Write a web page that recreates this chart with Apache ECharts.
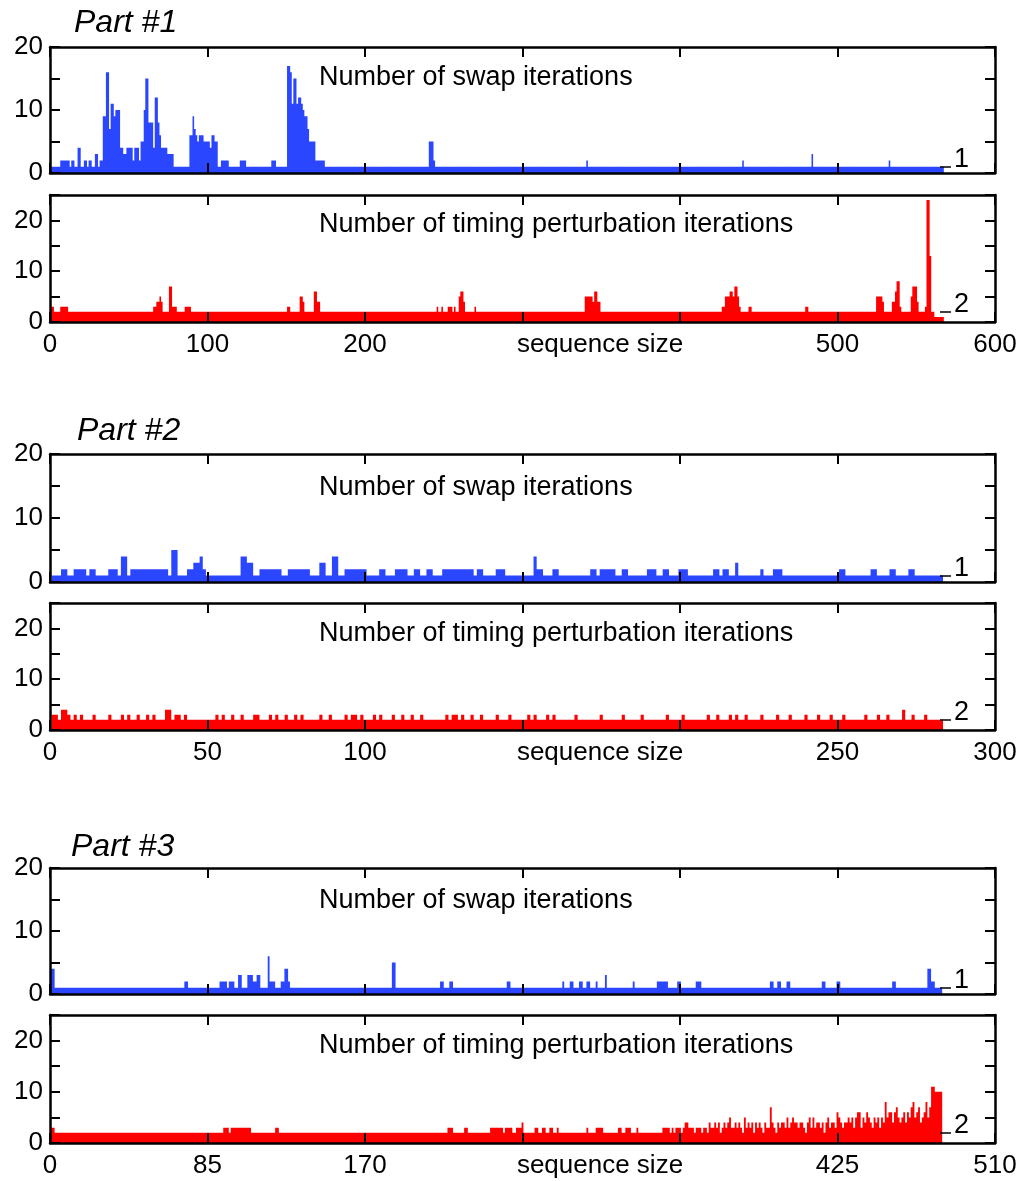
<!DOCTYPE html>
<html lang="en">

<head>
  <meta charset="UTF-8">
  <title>swap / timing iterations</title>
  <script src="https://cdn.jsdelivr.net/npm/echarts@6/dist/echarts.min.js"></script>
  <style>
    * {
      padding: 0;
      margin: 0;
    }

    #box {
      width: 1036px;
      height: 1181px;
    }
  </style>
</head>

<body>
  <div id="box"></div>
  <script>
    // ---- values ----
    // runs are [from, to, value] over sequence indexes, all other indexes sit on the baseline
    var partTitles = ['Part #1', 'Part #2', 'Part #3']
    var swapTitle = 'Number of swap iterations'
    var timingTitle = 'Number of timing perturbation iterations'
    var xTitle = 'sequence size'

    var xMax = [600, 300, 510]
    var xStep = [100, 50, 85]
    var xHidden = [[300, 400], [150, 200], [255, 340]]   // tick labels replaced by the axis title
    var seqCount = [567, 283, 481]
    var swapBase = 1
    var timingBase = 2

    var swap1Runs = [
      [7, 12, 2], [14, 15, 2], [18, 19, 4], [22, 23, 2], [25, 26, 2], [29, 30, 3], [32, 33, 2],
      [34, 35, 9], [36, 37, 16], [38, 38, 7], [39, 40, 11], [41, 41, 9], [42, 44, 10], [45, 46, 4],
      [47, 48, 3], [49, 52, 4], [53, 53, 2], [54, 56, 4], [57, 57, 2], [58, 59, 5], [60, 60, 10],
      [61, 62, 15], [63, 65, 8], [66, 66, 4], [67, 68, 12], [69, 69, 8], [70, 70, 6], [71, 74, 4],
      [75, 78, 3], [89, 90, 6], [91, 91, 9], [92, 92, 7], [93, 93, 6], [94, 94, 5], [95, 97, 6],
      [98, 101, 5], [102, 102, 4], [103, 104, 6], [105, 106, 5], [109, 113, 2], [121, 124, 2],
      [141, 143, 2], [151, 152, 17], [153, 153, 16], [154, 154, 11], [155, 156, 15], [157, 157, 11],
      [158, 159, 12], [160, 160, 11], [161, 161, 10], [162, 163, 9], [164, 164, 7], [165, 168, 5],
      [169, 174, 2], [241, 243, 5], [244, 244, 2], [341, 341, 2], [440, 440, 2], [484, 484, 3],
      [533, 533, 2]
    ]
    var timing1Runs = [
      [1, 2, 3], [7, 11, 3], [66, 67, 3], [68, 69, 4], [70, 70, 5], [71, 71, 4], [76, 77, 7],
      [78, 80, 3], [86, 89, 3], [151, 152, 3], [159, 160, 5], [161, 161, 4], [168, 169, 6],
      [170, 171, 4], [246, 246, 3], [249, 249, 3], [253, 255, 3], [257, 257, 3], [260, 260, 5],
      [261, 262, 6], [263, 263, 4], [270, 270, 3], [340, 344, 5], [345, 345, 4], [346, 347, 6],
      [348, 349, 4], [427, 428, 3], [429, 431, 5], [432, 433, 6], [434, 434, 5], [435, 436, 7],
      [437, 437, 5], [438, 438, 3], [444, 445, 3], [480, 481, 3], [525, 528, 5], [529, 529, 4],
      [535, 536, 4], [537, 537, 6], [538, 539, 8], [540, 540, 3], [547, 547, 5], [548, 550, 7],
      [551, 551, 4], [556, 556, 3], [557, 558, 24], [559, 559, 13], [562, 567, 1]
    ]
    var swap2Runs = [
      [4, 5, 2], [8, 11, 2], [13, 14, 2], [19, 21, 2], [23, 24, 4], [26, 37, 2], [39, 40, 5],
      [44, 45, 2], [46, 47, 3], [48, 48, 4], [49, 49, 2], [61, 62, 4], [63, 64, 3], [67, 73, 2],
      [76, 82, 2], [86, 87, 3], [90, 91, 4], [94, 100, 2], [105, 106, 2], [110, 113, 2],
      [116, 117, 2], [120, 121, 2], [125, 134, 2], [136, 137, 2], [142, 144, 2], [154, 154, 4],
      [155, 156, 2], [160, 161, 2], [172, 173, 2], [175, 179, 2], [182, 183, 2], [190, 192, 2],
      [195, 196, 2], [200, 202, 2], [211, 212, 2], [214, 215, 2], [218, 218, 3], [226, 226, 2],
      [230, 232, 2], [251, 252, 2], [261, 262, 2], [267, 268, 2], [273, 274, 2]
    ]
    var timing2Runs = [
      [1, 2, 3], [4, 5, 4], [6, 6, 3], [8, 8, 3], [10, 10, 3], [14, 14, 3], [19, 19, 3], [23, 23, 3],
      [25, 25, 3], [28, 28, 3], [31, 31, 3], [33, 33, 3], [37, 38, 4], [40, 41, 3], [43, 43, 3],
      [53, 53, 3], [55, 55, 3], [58, 58, 3], [61, 61, 3], [65, 66, 3], [70, 70, 3], [72, 72, 3],
      [75, 75, 3], [78, 78, 3], [80, 80, 3], [86, 86, 3], [89, 89, 3], [94, 94, 3], [96, 97, 3],
      [99, 99, 3], [103, 103, 3], [105, 105, 3], [109, 109, 3], [112, 112, 3], [115, 115, 3],
      [118, 118, 3], [126, 126, 3], [128, 129, 3], [131, 131, 3], [134, 134, 3], [137, 137, 3],
      [142, 142, 3], [146, 146, 3], [152, 152, 3], [154, 154, 3], [158, 158, 3], [160, 160, 3],
      [167, 167, 3], [175, 175, 3], [182, 182, 3], [188, 188, 3], [196, 196, 3], [201, 201, 3],
      [209, 209, 3], [212, 212, 3], [216, 216, 3], [218, 218, 3], [221, 221, 3], [226, 226, 3],
      [231, 231, 3], [235, 235, 3], [240, 240, 3], [244, 244, 3], [248, 248, 3], [252, 252, 3],
      [259, 259, 3], [263, 263, 3], [266, 266, 3], [271, 271, 4], [274, 274, 3], [278, 278, 3]
    ]
    var swap3Runs = [
      [1, 2, 4], [73, 74, 2], [92, 95, 2], [97, 99, 2], [102, 103, 3], [107, 109, 3], [110, 111, 2],
      [112, 113, 3], [118, 118, 6], [119, 121, 2], [125, 126, 2], [127, 128, 4], [129, 129, 2],
      [185, 186, 5], [211, 212, 2], [216, 217, 2], [247, 248, 2], [277, 277, 2], [281, 282, 2],
      [286, 287, 2], [290, 291, 2], [295, 295, 2], [300, 300, 3], [315, 315, 2], [328, 333, 2],
      [339, 340, 2], [349, 351, 2], [389, 390, 2], [393, 394, 2], [398, 399, 2], [417, 418, 2],
      [425, 426, 2], [455, 456, 2], [474, 475, 4], [476, 477, 2]
    ]
    var timing3Runs = [
      [1, 2, 3], [94, 96, 3], [98, 108, 3], [122, 123, 3], [215, 217, 3], [224, 225, 3],
      [238, 244, 3], [246, 249, 3], [252, 254, 3], [255, 255, 4], [262, 263, 3], [266, 267, 3],
      [270, 271, 3], [274, 274, 3], [290, 290, 3], [295, 298, 3], [307, 308, 3], [311, 313, 3],
      [317, 317, 3], [331, 334, 3]
    ]
    // part 3 timing, indexes 336..481 one by one
    var timing3TailStart = 336
    var timing3Tail = [
      3, 2, 3, 3, 3, 2, 3, 4, 4, 3,
      3, 3, 2, 3, 3, 3, 2, 3, 3, 2,
      4, 3, 3, 4, 3, 4, 2, 3, 4, 3,
      4, 5, 3, 3, 4, 3, 4, 3, 2, 5,
      3, 4, 3, 4, 2, 4, 3, 4, 3, 2,
      4, 3, 3, 7, 4, 3, 2, 4, 3, 4,
      4, 3, 5, 3, 4, 5, 4, 4, 3, 4,
      4, 3, 2, 4, 5, 3, 5, 3, 4, 4,
      3, 4, 2, 4, 5, 3, 4, 4, 3, 6,
      5, 4, 3, 4, 4, 5, 4, 5, 3, 5,
      6, 6, 3, 5, 4, 6, 5, 4, 3, 5,
      4, 5, 3, 5, 4, 8, 5, 6, 6, 4,
      6, 7, 5, 4, 5, 6, 4, 6, 5, 7,
      8, 5, 6, 7, 4, 5, 6, 8, 5, 7,
      11, 11, 10, 10, 10, 10
    ]

    function buildData(count, base, runs, tailStart, tail) {
      var vals = []
      for (var i = 1; i <= count; i++) vals.push(base)
      runs.forEach(function (r) {
        for (var k = r[0]; k <= r[1]; k++) vals[k - 1] = r[2]
      })
      if (tail) {
        tail.forEach(function (v, j) { vals[tailStart - 1 + j] = v })
      }
      return vals.map(function (v, j) { return [j + 1, v] })
    }

    var plots = [
      { part: 0, kind: 'swap', data: buildData(seqCount[0], swapBase, swap1Runs) },
      { part: 0, kind: 'timing', data: buildData(seqCount[0], timingBase, timing1Runs) },
      { part: 1, kind: 'swap', data: buildData(seqCount[1], swapBase, swap2Runs) },
      { part: 1, kind: 'timing', data: buildData(seqCount[1], timingBase, timing2Runs) },
      { part: 2, kind: 'swap', data: buildData(seqCount[2], swapBase, swap3Runs) },
      { part: 2, kind: 'timing', data: buildData(seqCount[2], timingBase, timing3Runs, timing3TailStart, timing3Tail) }
    ]

    // ---- layout ----
    var font = "'Liberation Sans', Arial, Helvetica, sans-serif"
    var gridTops = [47, 195, 454, 603, 868, 1015]
    var gridHeights = [126, 127, 128, 127, 126, 128]
    var captionTops = [64, 211, 474, 620, 887, 1032]
    var partTops = [7, 415, 831]
    var partLefts = [74, 77, 71]
    var plotLeft = 50, plotRight = 41
    var dashFrom = 0.9418, dashTo = 0.9534   // of the x range
    var blue = '#2b46ff', red = '#ff0000'

    var mChart = echarts.init(document.getElementById('box'))

    var grids = [], xAxes = [], yAxes = [], series = [], titles = []

    partTitles.forEach(function (t, p) {
      titles.push({
        text: t, left: partLefts[p], top: partTops[p], padding: 0,
        textStyle: { fontFamily: font, fontSize: 32, fontStyle: 'italic', fontWeight: 'normal', color: '#000' }
      })
    })

    var lineStyle = { color: '#000', width: 2.5 }
    var tickStyle = { show: true, inside: true, length: 10, lineStyle: { color: '#000', width: 2 } }

    plots.forEach(function (pl, g) {
      var p = pl.part
      var timing = pl.kind === 'timing'
      var base = timing ? timingBase : swapBase
      grids.push({ left: plotLeft, right: plotRight, top: gridTops[g], height: gridHeights[g] })
      titles.push({
        text: timing ? timingTitle : swapTitle, left: 319, top: captionTops[g], padding: 0,
        textStyle: { fontFamily: font, fontSize: 27, fontWeight: 'normal', color: '#000' }
      })
      var hidden = xHidden[p]
      xAxes.push({
        gridIndex: g, type: 'value', position: 'bottom', min: 0, max: xMax[p], interval: xStep[p], z: 10,
        axisLine: { show: true, onZero: false, lineStyle: lineStyle },
        axisTick: tickStyle,
        splitLine: { show: false },
        axisLabel: {
          show: timing, margin: 10, fontFamily: font, fontSize: 26, color: '#000',
          formatter: function (v) { return hidden.indexOf(v) >= 0 ? '' : String(v) }
        },
        name: timing ? xTitle : '', nameLocation: 'middle', nameGap: 10, nameMoveOverlap: false,
        nameTextStyle: { fontFamily: font, fontSize: 26, color: '#000', padding: [0, 0, 0, 155] }
      })
      xAxes.push({
        gridIndex: g, type: 'value', position: 'top', min: 0, max: xMax[p], interval: xStep[p], z: 10,
        axisLine: { show: true, onZero: false, lineStyle: lineStyle },
        axisTick: tickStyle, splitLine: { show: false }, axisLabel: { show: false }
      })
      var yMax = timing ? 25 : 20
      yAxes.push({
        gridIndex: g, type: 'value', position: 'left', min: 0, max: yMax, interval: 5, z: 10,
        axisLine: { show: true, onZero: false, lineStyle: lineStyle },
        axisTick: tickStyle, splitLine: { show: false },
        axisLabel: {
          margin: 7, fontFamily: font, fontSize: 26, color: '#000',
          formatter: function (v) { return v % 10 === 0 ? String(v) : '' }
        }
      })
      yAxes.push({
        gridIndex: g, type: 'value', position: 'right', min: 0, max: yMax, interval: 5, z: 10,
        axisLine: { show: true, onZero: false, lineStyle: lineStyle },
        axisTick: tickStyle, splitLine: { show: false }, axisLabel: { show: false }
      })
      var color = timing ? red : blue
      // large mode fills all bars as one path, so neighbouring bars join without seams
      series.push({
        type: 'bar', xAxisIndex: 2 * g, yAxisIndex: 2 * g, data: pl.data,
        barWidth: '100%', large: true, largeThreshold: 50, silent: true,
        itemStyle: { color: color },
        markLine: {
          silent: true, symbol: ['none', 'none'],
          lineStyle: { color: '#000', width: 1.5, type: 'solid' },
          label: { show: false },
          data: [[{ coord: [xMax[p] * dashFrom, base] }, { coord: [xMax[p] * dashTo, base] }]]
        }
      })
    })

    mChart.setOption({
      animation: false,
      backgroundColor: '#fff',
      title: titles,
      grid: grids,
      xAxis: xAxes,
      yAxis: yAxes,
      series: series
    })

    // baseline value written next to the end of each dash
    var baseTexts = plots.map(function (pl, g) {
      var base = pl.kind === 'timing' ? timingBase : swapBase
      var pt = mChart.convertToPixel({ xAxisIndex: 2 * g, yAxisIndex: 2 * g }, [xMax[pl.part] * dashTo, base])
      return {
        type: 'text', x: pt[0] + 3, y: pt[1] + 6, z: 20,
        style: {
          text: String(base), fontFamily: font, fontSize: 27, fill: '#000',
          verticalAlign: 'bottom', textVerticalAlign: 'bottom'
        }
      }
    })
    mChart.setOption({ graphic: baseTexts })
  </script>
</body>

</html>
